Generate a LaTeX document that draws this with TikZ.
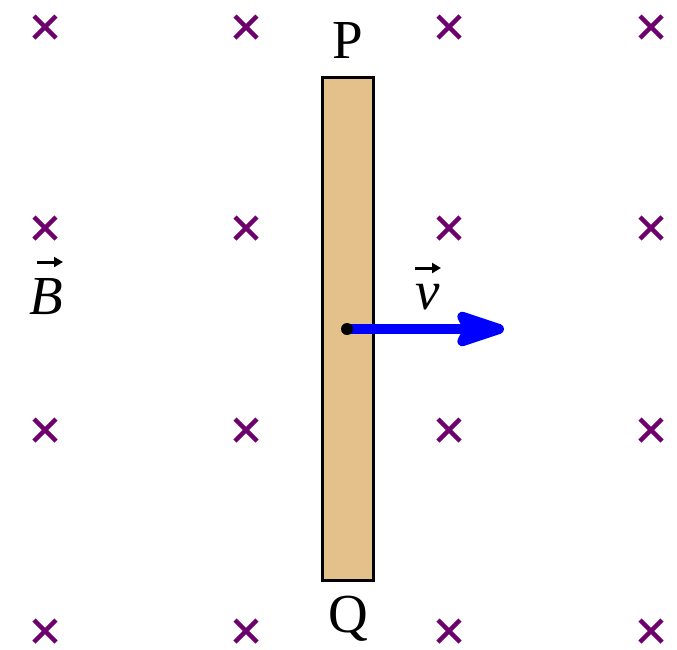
\documentclass[tikz,border=0pt]{standalone}
\usepackage{fontspec}
\setmainfont{Liberation Serif}
\usetikzlibrary{arrows.meta}
\definecolor{crosscol}{RGB}{110,0,110}
\definecolor{rodcol}{RGB}{228,193,138}
\definecolor{arrowblue}{RGB}{0,0,255}
\tikzset{
  crossmark/.style={crosscol, line width=4.5pt},
  rodbox/.style={draw=black, fill=rodcol, line width=3pt},
  lbl/.style={font=\fontsize{55}{60}\selectfont, inner sep=0pt},
  vecaccent/.style={black, line width=3pt, -{Triangle[length=9pt,width=10pt]}},
}
\begin{document}
\begin{tikzpicture}[x=1pt,y=-1pt]
\useasboundingbox (0,0) rectangle (677,649);
\foreach \cx in {45,246,449,651}{
  \foreach \cy in {27,228,430,631}{
    \draw[crossmark] (\cx-11,\cy-11) -- (\cx+11,\cy+11);
    \draw[crossmark] (\cx-11,\cy+11) -- (\cx+11,\cy-11);
  }
}
\node[rodbox, minimum width=51pt, minimum height=503pt, inner sep=0pt] (rod) at (347.5,328.5) {};
\node[lbl] (P) at (348,40) {P};
\node[lbl] (Q) at (348,619) {Q};
\node[lbl, anchor=base] (B) at (46,314) {\textit{B}};
\node[lbl, anchor=base] (v) at (428,309) {\textit{v}};
\coordinate (Ba) at (37,262);
\coordinate (Bb) at (63,262);
\coordinate (va) at (415,268);
\coordinate (vb) at (441,268);
\draw[vecaccent] (Ba) -- (Bb);
\draw[vecaccent] (va) -- (vb);
\coordinate (d) at (347,329);
\coordinate (e) at (504,329);
\draw[arrowblue, line width=10pt, line join=round,
  -{Stealth[length=62pt,width=40pt,inset=10pt,round]}] (d) -- (e);
\fill[black] (d) circle (6);
\end{tikzpicture}
\end{document}
